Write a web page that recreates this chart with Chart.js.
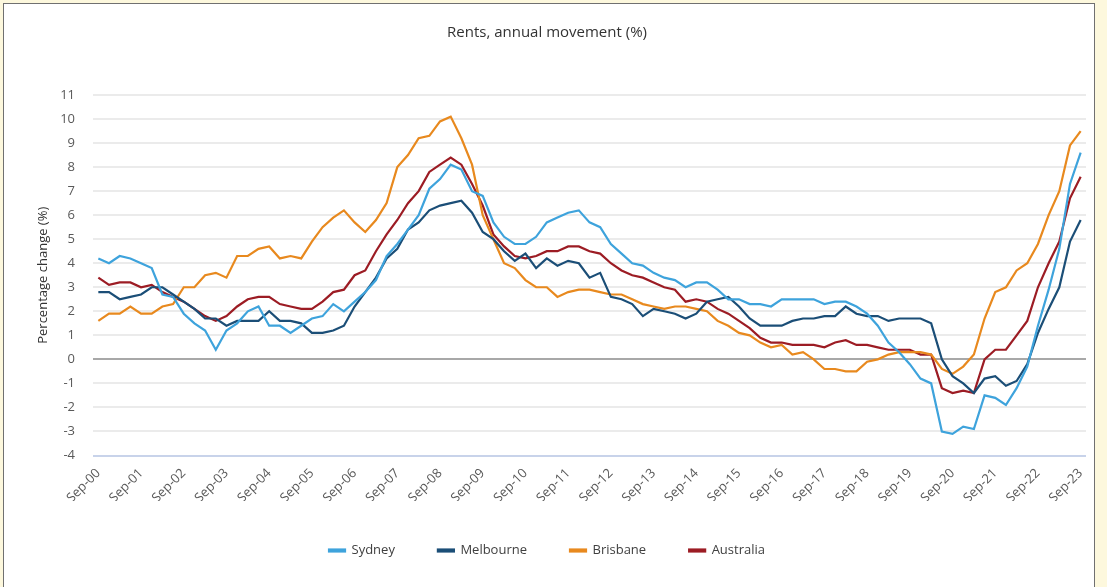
<!DOCTYPE html>
<html><head><meta charset="utf-8">
<script src="https://cdn.jsdelivr.net/npm/chart.js@4.4.0/dist/chart.umd.min.js"></script>
<style>
html,body{margin:0;padding:0;width:1107px;height:587px;overflow:hidden;background:#fdf8dd;}
#frame{position:absolute;left:3px;top:3px;width:1090px;height:600px;border:1px solid #707070;background:#fff;}
#wrap{position:absolute;left:0;top:0;width:1107px;height:587px;}
</style></head><body>
<div id="frame"></div>
<div id="wrap"><canvas id="c" width="1107" height="587"></canvas></div>
<script>
const chartTitle = 'Rents, annual movement (%)';
const yAxisTitle = 'Percentage change (%)';
const seriesNames = ['Sydney', 'Melbourne', 'Brisbane', 'Australia'];
const seriesColors = ['#3ea3dc', '#1b4e77', '#e8891e', '#9c1c24'];

const categories = [
 'Sep-00','Dec-00',
 'Mar-01','Jun-01','Sep-01','Dec-01',
 'Mar-02','Jun-02','Sep-02','Dec-02',
 'Mar-03','Jun-03','Sep-03','Dec-03',
 'Mar-04','Jun-04','Sep-04','Dec-04',
 'Mar-05','Jun-05','Sep-05','Dec-05',
 'Mar-06','Jun-06','Sep-06','Dec-06',
 'Mar-07','Jun-07','Sep-07','Dec-07',
 'Mar-08','Jun-08','Sep-08','Dec-08',
 'Mar-09','Jun-09','Sep-09','Dec-09',
 'Mar-10','Jun-10','Sep-10','Dec-10',
 'Mar-11','Jun-11','Sep-11','Dec-11',
 'Mar-12','Jun-12','Sep-12','Dec-12',
 'Mar-13','Jun-13','Sep-13','Dec-13',
 'Mar-14','Jun-14','Sep-14','Dec-14',
 'Mar-15','Jun-15','Sep-15','Dec-15',
 'Mar-16','Jun-16','Sep-16','Dec-16',
 'Mar-17','Jun-17','Sep-17','Dec-17',
 'Mar-18','Jun-18','Sep-18','Dec-18',
 'Mar-19','Jun-19','Sep-19','Dec-19',
 'Mar-20','Jun-20','Sep-20','Dec-20',
 'Mar-21','Jun-21','Sep-21','Dec-21',
 'Mar-22','Jun-22','Sep-22','Dec-22',
 'Mar-23','Jun-23','Sep-23'
];

const tickLabels = ['Sep-00','Sep-01','Sep-02','Sep-03','Sep-04','Sep-05','Sep-06','Sep-07','Sep-08','Sep-09','Sep-10','Sep-11','Sep-12','Sep-13','Sep-14','Sep-15','Sep-16','Sep-17','Sep-18','Sep-19','Sep-20','Sep-21','Sep-22','Sep-23'];

const sydney = [
 4.2,4.0,4.3,4.2,4.0,3.8,2.7,2.6,1.9,1.5,
 1.2,0.4,1.2,1.5,2.0,2.2,1.4,1.4,1.1,1.4,
 1.7,1.8,2.3,2.0,2.4,2.8,3.3,4.3,4.8,5.4,
 6.0,7.1,7.5,8.1,7.9,7.0,6.8,5.7,5.1,4.8,
 4.8,5.1,5.7,5.9,6.1,6.2,5.7,5.5,4.8,4.4,
 4.0,3.9,3.6,3.4,3.3,3.0,3.2,3.2,2.9,2.5,
 2.5,2.3,2.3,2.2,2.5,2.5,2.5,2.5,2.3,2.4,
 2.4,2.2,1.9,1.4,0.7,0.3,-0.2,-0.8,-1.0,-3.0,
 -3.1,-2.8,-2.9,-1.5,-1.6,-1.9,-1.2,-0.3,1.4,2.9,
 4.6,7.3,8.6
];
const melbourne = [
 2.8,2.8,2.5,2.6,2.7,3.0,3.0,2.7,2.4,2.1,
 1.7,1.7,1.4,1.6,1.6,1.6,2.0,1.6,1.6,1.5,
 1.1,1.1,1.2,1.4,2.2,2.8,3.4,4.2,4.6,5.4,
 5.7,6.2,6.4,6.5,6.6,6.1,5.3,5.0,4.5,4.1,
 4.4,3.8,4.2,3.9,4.1,4.0,3.4,3.6,2.6,2.5,
 2.3,1.8,2.1,2.0,1.9,1.7,1.9,2.4,2.5,2.6,
 2.2,1.7,1.4,1.4,1.4,1.6,1.7,1.7,1.8,1.8,
 2.2,1.9,1.8,1.8,1.6,1.7,1.7,1.7,1.5,0.0,
 -0.7,-1.0,-1.4,-0.8,-0.7,-1.1,-0.9,-0.2,1.1,2.1,
 3.0,4.9,5.8
];
const brisbane = [
 1.6,1.9,1.9,2.2,1.9,1.9,2.2,2.3,3.0,3.0,
 3.5,3.6,3.4,4.3,4.3,4.6,4.7,4.2,4.3,4.2,
 4.9,5.5,5.9,6.2,5.7,5.3,5.8,6.5,8.0,8.5,
 9.2,9.3,9.9,10.1,9.2,8.1,6.0,5.0,4.0,3.8,
 3.3,3.0,3.0,2.6,2.8,2.9,2.9,2.8,2.7,2.7,
 2.5,2.3,2.2,2.1,2.2,2.2,2.1,2.0,1.6,1.4,
 1.1,1.0,0.7,0.5,0.6,0.2,0.3,0.0,-0.4,-0.4,
 -0.5,-0.5,-0.1,0.0,0.2,0.3,0.3,0.3,0.2,-0.4,
 -0.6,-0.3,0.2,1.7,2.8,3.0,3.7,4.0,4.8,6.0,
 7.0,8.9,9.5
];
const australia = [
 3.4,3.1,3.2,3.2,3.0,3.1,2.8,2.6,2.4,2.1,
 1.8,1.6,1.8,2.2,2.5,2.6,2.6,2.3,2.2,2.1,
 2.1,2.4,2.8,2.9,3.5,3.7,4.5,5.2,5.8,6.5,
 7.0,7.8,8.1,8.4,8.1,7.3,6.4,5.2,4.7,4.3,
 4.2,4.3,4.5,4.5,4.7,4.7,4.5,4.4,4.0,3.7,
 3.5,3.4,3.2,3.0,2.9,2.4,2.5,2.4,2.1,1.9,
 1.6,1.3,0.9,0.7,0.7,0.6,0.6,0.6,0.5,0.7,
 0.8,0.6,0.6,0.5,0.4,0.4,0.4,0.2,0.2,-1.2,
 -1.4,-1.3,-1.4,0.0,0.4,0.4,1.0,1.6,3.0,4.0,
 4.9,6.7,7.6
];

const yMin = -4, yMax = 11;
const FONT = "'Open Sans', 'Noto Sans', sans-serif";
const seriesData = [sydney, melbourne, brisbane, australia];

const datasets = seriesNames.map((name, k) => ({
  label: name,
  data: seriesData[k],
  borderColor: seriesColors[k],
  backgroundColor: seriesColors[k],
  borderWidth: 2.2,
  pointRadius: 0,
  tension: 0,
  fill: false
}));

new Chart(document.getElementById('c'), {
  type: 'line',
  data: { labels: categories, datasets: datasets },
  options: {
    responsive: false,
    animation: false,
    devicePixelRatio: 1,
    layout: { padding: { left: 8, right: 21, top: 0, bottom: 20 } },
    plugins: {
      title: {
        display: true, text: chartTitle, color: '#333333',
        font: { family: FONT, size: 15, weight: 'normal' },
        padding: { top: 24, bottom: 53 }
      },
      legend: {
        position: 'bottom',
        labels: {
          boxWidth: 16, boxHeight: 2, padding: 43, color: '#404040',
          font: { family: FONT, size: 13 }
        }
      },
      tooltip: { enabled: false }
    },
    scales: {
      x: {
        type: 'category',
        offset: true,
        grid: { display: false, drawTicks: false },
        border: { display: false },
        ticks: {
          autoSkip: false, maxRotation: 45, minRotation: 45, padding: 10,
          color: '#595959', font: { family: FONT, size: 13 },
          callback: function (v) {
            const l = this.getLabelForValue(v);
            return tickLabels.includes(l) ? l : '';
          }
        },
        afterFit: s => { s.height = 45.5; }
      },
      y: {
        min: yMin, max: yMax,
        ticks: { stepSize: 1, padding: 18, color: '#595959', font: { family: FONT, size: 13 } },
        grid: {
          drawTicks: false,
          color: c => c.tick.value === 0 ? '#a8a8a8' : (c.tick.value === yMin ? '#c8d3ea' : '#ebebeb'),
          lineWidth: c => 2
        },
        border: { display: false },
        title: {
          display: true, text: yAxisTitle, color: '#333333',
          font: { family: FONT, size: 13 },
          padding: { top: 27, bottom: 0 }
        },
        afterFit: s => { s.width = 85; }
      }
    }
  }
});
</script>
</body></html>
